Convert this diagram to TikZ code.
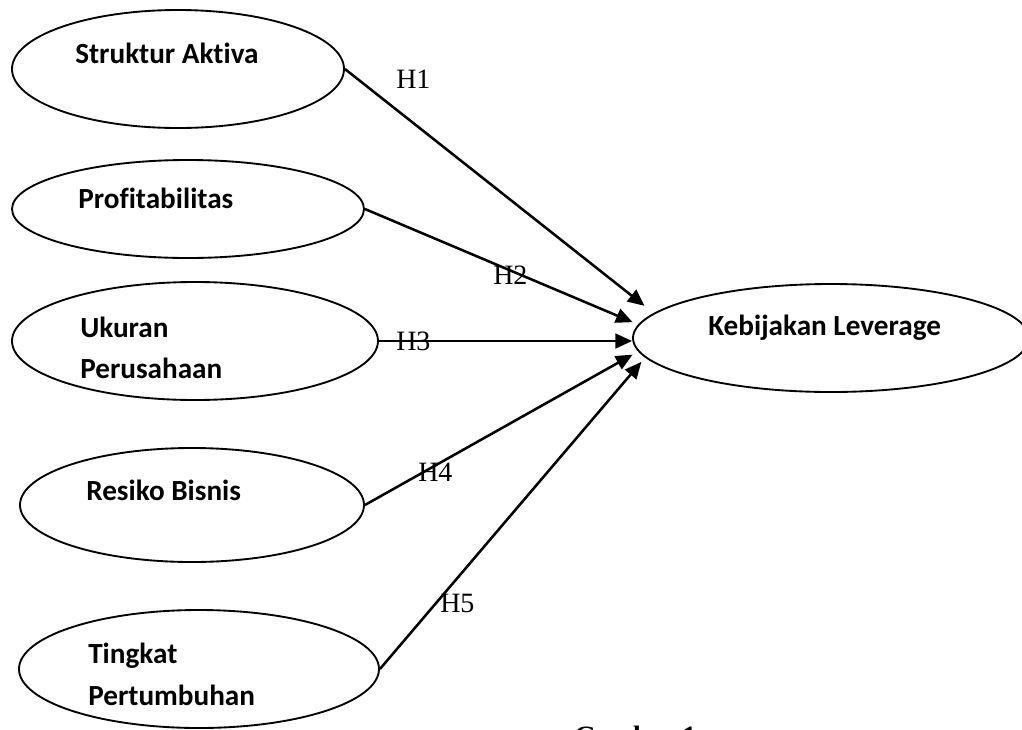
\documentclass[tikz,border=0pt]{standalone}
\usepackage{fontspec}
\setmainfont{Liberation Serif}
\newfontfamily\calib[Ligatures=NoCommon,RawFeature={-liga;-clig}]{Carlito}
\usetikzlibrary{shapes.geometric,arrows.meta}
\begin{document}
\begin{tikzpicture}[x=0.75pt,y=-0.75pt,
  var/.style 2 args={ellipse,draw,line width=1.4pt,inner sep=0pt,
    minimum width=#1*0.75pt,minimum height=#2*0.75pt},
  lbl/.style={anchor=base west,inner sep=0pt,font=\calib\bfseries\fontsize{21.9}{26}\selectfont},
  hyp/.style={anchor=base west,inner sep=0pt,font=\fontsize{21}{25}\selectfont},
  arr/.style={line width=1.9pt,-{Triangle[length=12.5pt,width=11pt]}}]
\useasboundingbox (0,0) rectangle (1022,729);
% variables
\node[var={332}{118}] (s1) at (178,69) {};
\node[var={352}{98}]  (s2) at (188,209) {};
\node[var={366}{118}] (s3) at (195,341) {};
\node[var={344}{114}] (s4) at (192,505) {};
\node[var={360}{118}] (s5) at (199,669) {};
\node[var={396}{108}] (k)  at (831,338) {};
% labels
\node[lbl] (t1)  at (75,63)  {Struktur Aktiva};
\node[lbl] (t2)  at (78,208) {Profitabilitas};
\node[lbl] (t3a) at (80,337) {Ukuran};
\node[lbl] (t3b) at (80,378) {Perusahaan};
\node[lbl] (t4)  at (86,500) {Resiko Bisnis};
\node[lbl] (t5a) at (88,663) {Tingkat};
\node[lbl] (t5b) at (88,705) {Pertumbuhan};
\node[lbl] (tk)  at (708,335) {Kebijakan Leverage};
% arrows
\draw[arr,shorten >=11.7*0.75pt] (s1.east) -- (k.172.4);
\draw[arr,shorten >=6*0.75pt]    (s2.east) -- (k.176.25);
\draw[arr]                       (s3.east) -- (s3.east -| k.west);
\draw[arr,shorten >=6.4*0.75pt]  (s4.east) -- (k.184.15);
\draw[arr,shorten >=5.7*0.75pt]  (s5.east) -- (k.186.8);
% hypothesis labels
\node[hyp] (h1) at (396,88)  {H1};
\node[hyp] (h2) at (493,284) {H2};
\node[hyp] (h3) at (396,350) {H3};
\node[hyp] (h4) at (418,481) {H4};
\node[hyp] (h5) at (440,612) {H5};
% caption (cut off at the bottom edge, as in the reference)
\node[anchor=base west,inner sep=0pt,font=\bfseries\fontsize{21}{25}\selectfont] (cap) at (574,745) {Gambar 1};
\end{tikzpicture}
\end{document}
